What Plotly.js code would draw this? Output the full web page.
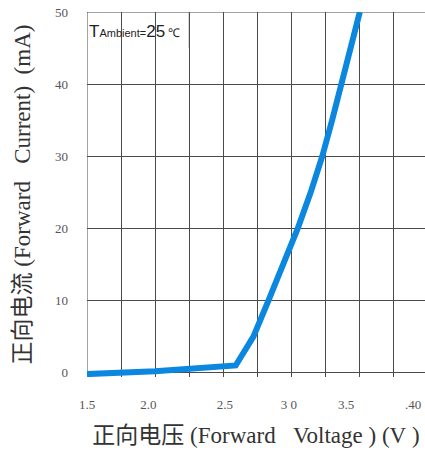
<!DOCTYPE html>
<html>
<head>
<meta charset="utf-8">
<script src="https://cdn.plot.ly/plotly-3.0.1.min.js"></script>
<style>html,body{margin:0;padding:0;background:#fff;}#chart{width:425px;height:454px;}</style>
</head>
<body>
<div id="chart"></div>
<script>
// Forward voltage (V) and forward current (mA)
var voltage = [1.5, 2.0, 2.59, 2.72, 2.83, 2.94, 3.045, 3.14, 3.225, 3.297, 3.367, 3.435, 3.50];
var current = [-0.2, 0.2, 1.0, 5.0, 10.0, 15.0, 20.0, 25.0, 30.0, 35.0, 40.0, 45.0, 50.0];

// X tick labels as printed in the reference, with where they sit
var xTickText = ["1.5", "2.0", "2.5", "3 0", "3.5", ".40"];
var xTickPos  = [1.5, 1.95, 2.51, 2.98, 3.40, 3.89];

var yTickVals = [0, 10, 20, 30, 40, 50];
var yTickText = ["0", "10", "20", "30", "40", "50"];

var serif = "Liberation Serif";
function cjk(s) { return "<span style=\"font-family:Noto Sans CJK SC\">" + s + "</span>"; }

var trace = {
  x: voltage,
  y: current,
  xaxis: "x",
  yaxis: "y",
  mode: "lines",
  line: {color: "#0b87e0", width: 6},
  hoverinfo: "skip",
  showlegend: false
};

// invisible trace to register the label axis
var labelTrace = {
  x: [voltage[0]],
  y: [current[0]],
  xaxis: "x2",
  yaxis: "y",
  mode: "lines",
  line: {width: 0},
  hoverinfo: "skip",
  showlegend: false
};

var layout = {
  width: 425,
  height: 454,
  margin: {l: 87, r: 0, t: 12, b: 77},
  paper_bgcolor: "#fff",
  plot_bgcolor: "#fff",
  font: {family: serif, color: "#333"},
  xaxis: {
    range: [1.5, 3.978],
    dtick: 0.25,
    tick0: 1.5,
    showgrid: true,
    gridcolor: "#4a4a4a",
    gridwidth: 1,
    zeroline: false,
    showticklabels: false,
    ticks: "",
    showline: false,
    fixedrange: true
  },
  xaxis2: {
    overlaying: "x",
    anchor: "y",
    side: "bottom",
    range: [1.5, 3.978],
    tickmode: "array",
    tickvals: xTickPos,
    ticktext: xTickText,
    tickfont: {family: serif, size: 13, color: "#555"},
    ticks: "",
    ticklabelstandoff: 18,
    showgrid: false,
    zeroline: false,
    showline: false,
    title: {
      text: cjk("正向电压") + "&#160;(Forward&#160;&#160;&#160;Voltage&#160;)&#160;(V&#160;)",
      font: {family: serif, size: 23, color: "#333"},
      standoff: 15
    },
    fixedrange: true
  },
  yaxis: {
    range: [-0.6, 50],
    dtick: 5,
    tick0: 0,
    showgrid: true,
    gridcolor: "#4a4a4a",
    gridwidth: 1,
    zeroline: false,
    tickmode: "array",
    tickvals: yTickVals,
    ticktext: yTickText,
    tickfont: {family: serif, size: 13, color: "#555"},
    ticks: "",
    ticklabelstandoff: 18,
    showline: false,
    title: {
      text: cjk("正向电流") + "&#160;(Forward&#160;&#160;&#160;Current)&#160;&#160;(mA)",
      font: {family: serif, size: 23, color: "#333"},
      standoff: 17
    },
    fixedrange: true
  },
  shapes: [
    {type: "rect", xref: "x", yref: "y", x0: 1.5, x1: 2.25, y0: 45, y1: 50,
     fillcolor: "#fff", line: {width: 0}, layer: "below"},
    {type: "line", xref: "x", yref: "y", x0: 1.5, x1: 3.978, y0: 50, y1: 50,
     line: {color: "#4a4a4a", width: 1}, layer: "below"},
    {type: "line", xref: "x", yref: "y", x0: 1.5, x1: 1.5, y0: 0, y1: 50,
     line: {color: "#4a4a4a", width: 1}, layer: "below"},
    {type: "line", xref: "x", yref: "y", x0: 2.25, x1: 2.25, y0: 45, y1: 50,
     line: {color: "#4a4a4a", width: 1}, layer: "below"}
  ],
  annotations: [{
    xref: "x", yref: "y", x: 1.5, y: 47.3, xanchor: "left", yanchor: "middle",
    showarrow: false,
    text: "T<span style='font-size:11px'>Ambient=</span>25<span style='font-size:12px'> ℃</span>",
    font: {family: "Liberation Sans", size: 17, color: "#222"}
  }]
};

Plotly.newPlot("chart", [trace, labelTrace], layout, {displayModeBar: false, staticPlot: true});
</script>
</body>
</html>
